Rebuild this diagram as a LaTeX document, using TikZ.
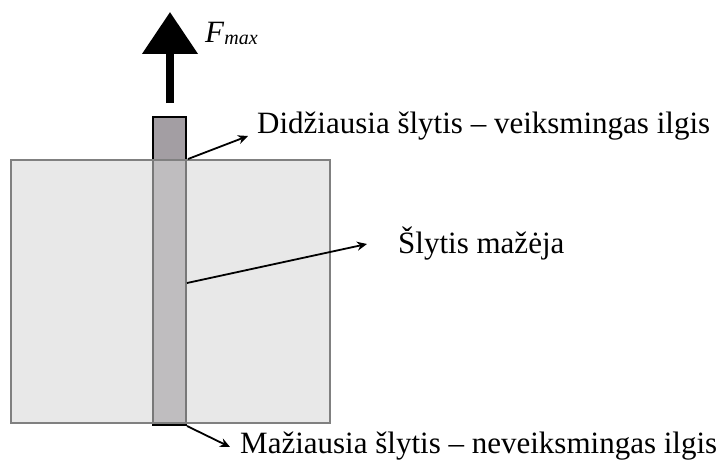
\documentclass[tikz,border=0pt]{standalone}
\usepackage{fontspec}
\setmainfont{Liberation Serif}
\usetikzlibrary{arrows.meta}
\definecolor{boxfill}{HTML}{D6D6D6}
\definecolor{rodfill}{HTML}{A39EA3}
\definecolor{boxline}{HTML}{808080}
\begin{document}
\begin{tikzpicture}[x=1pt,y=-1pt,
  rodbox/.style={draw=black,line width=2pt,fill=rodfill,rectangle,inner sep=0pt},
  blockbox/.style={draw=boxline,line width=2pt,fill=boxfill,fill opacity=0.565,rectangle,inner sep=0pt},
  label/.style={anchor=base west,inner sep=0pt,font=\fontsize{31}{36}\selectfont},
  pointer/.style={line width=1.8pt,-{Stealth[length=10pt,width=9pt]}}]
\useasboundingbox (0,0) rectangle (727,460);
% rod and block
\node[rodbox,minimum width=33pt,minimum height=308pt] (rod) at (169.5,271) {};
\node[blockbox,minimum width=319pt,minimum height=263pt] (block) at (170.5,291.5) {};
% force arrow
\coordinate (fbase) at (170,103);
\coordinate (ftip) at (170,12);
\draw[line width=8pt,-{Triangle[width=54pt,length=42pt]}] (fbase) -- (ftip);
\node[label] (fmax) at (205,43) {\textit{F}\raisebox{-1.5pt}{\fontsize{20}{20}\selectfont\textit{max}}};
% labels
\node[label] (top) at (257,133) {Didžiausia šlytis – veiksmingas ilgis};
\node[label] (mid) at (398,253) {Šlytis mažėja};
\node[label] (bot) at (240,453) {Mažiausia šlytis – neveiksmingas ilgis};
% pointers
\coordinate (p1s) at (188,159);
\coordinate (p1e) at (248,136);
\coordinate (p2s) at (187,283);
\coordinate (p2e) at (367,244);
\coordinate (p3s) at (187,426);
\coordinate (p3e) at (230,447);
\draw[pointer] (p1s) -- (p1e);
\draw[pointer] (p2s) -- (p2e);
\draw[pointer] (p3s) -- (p3e);
\end{tikzpicture}
\end{document}
